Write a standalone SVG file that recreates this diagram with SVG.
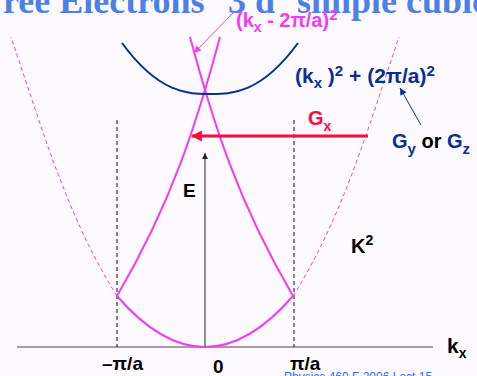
<svg xmlns="http://www.w3.org/2000/svg" width="477" height="376" viewBox="0 0 477 376">
<defs>
<style>
.t{font-family:"Liberation Sans",Arial,sans-serif;font-weight:bold}
.mag{fill:none;stroke:#f23cf2;stroke-width:2}
.magd{fill:none;stroke:#f23cf2;stroke-width:1;stroke-dasharray:4,3}
.vd{fill:none;stroke:#333;stroke-width:1.2;stroke-dasharray:4,3}
</style>
<marker id="ahBlack" viewBox="0 0 10 10" refX="10" refY="5" markerWidth="6" markerHeight="6" markerUnits="userSpaceOnUse" orient="auto"><path d="M0,0 L10,5 L0,10 z" fill="#222"/></marker>
<marker id="ahRed" viewBox="0 0 10 10" refX="9" refY="5" markerWidth="12" markerHeight="11" markerUnits="userSpaceOnUse" orient="auto"><path d="M0,0 L10,5 L0,10 z" fill="#ff0a3c"/></marker>
<marker id="ahMag" viewBox="0 0 10 10" refX="10" refY="5" markerWidth="8" markerHeight="7" markerUnits="userSpaceOnUse" orient="auto"><path d="M0,0 L10,5 L0,10 z" fill="#f23cf2"/></marker>
<marker id="ahNavy" viewBox="0 0 10 10" refX="10" refY="5" markerWidth="8" markerHeight="7" markerUnits="userSpaceOnUse" orient="auto"><path d="M0,0 L10,5 L0,10 z" fill="#0a2f8f"/></marker>
</defs>
<rect width="477" height="376" fill="#fcfaff"/>
<g id="title">
<text font-family="Liberation Serif,'Times New Roman',serif" font-weight="bold" font-size="36" fill="#4d7fe8" y="13"><tspan x="-19">Free Electrons</tspan><tspan x="228">3 d</tspan><tspan x="297">simple cubic</tspan></text>
</g>
<g id="axes">
<line x1="17" y1="347" x2="433" y2="347" stroke="#444" stroke-width="1.2"/>
<line x1="117" y1="120" x2="117" y2="347" class="vd"/>
<line x1="294" y1="120" x2="294" y2="347" class="vd"/>
</g>
<g id="curves">
<path class="magd" d="M117,296 C67,217 41,125 11,37"/>
<path class="magd" d="M293,296 C343,217 369,125 399,37"/>
<path class="mag" d="M117,296 Q205,398 293,296"/>
<path class="mag" d="M117,296 C172,202 196.5,124 220,37"/>
<path class="mag" d="M293,296 C238,202 213.5,124 190,37"/>
<path fill="none" stroke="#0a2f8f" stroke-width="2" d="M122,43 C160,95 190,94 210,94 C230,94 260,95 298,43"/>
</g>
<g id="connectors">
<line x1="205" y1="347" x2="205" y2="153" stroke="#555" stroke-width="1.3" marker-end="url(#ahBlack)"/>
<line x1="368" y1="136" x2="192" y2="136" stroke="#ff0a3c" stroke-width="3" marker-end="url(#ahRed)"/>
<line x1="233" y1="13" x2="194" y2="53" stroke="#f23cf2" stroke-width="1" marker-end="url(#ahMag)"/>
<line x1="421" y1="125" x2="400" y2="88" stroke="#0a2f8f" stroke-width="1" marker-end="url(#ahNavy)"/>
</g>
<g id="label-kx2pi">
<text class="t" x="236" y="27" font-size="20" fill="#f23cf2">(k<tspan font-size="14" dy="5">x</tspan><tspan dy="-5"> - 2π/a)</tspan><tspan font-size="15" dy="-7">2</tspan></text>
</g>
<g id="label-kx2-plus">
<text class="t" x="295" y="83" font-size="21" fill="#0a2f8f">(k<tspan font-size="15" dy="5">x</tspan><tspan dy="-5"> )</tspan><tspan font-size="15" dy="-7">2</tspan><tspan dy="7"> + (2π/a)</tspan><tspan font-size="15" dy="-7">2</tspan></text>
</g>
<g id="label-Gyz">
<text class="t" x="392" y="148" font-size="20" fill="#000"><tspan fill="#0a2f8f">G</tspan><tspan fill="#0a2f8f" font-size="15" dy="6">y</tspan><tspan dy="-6"> or </tspan><tspan fill="#0a2f8f">G</tspan><tspan fill="#0a2f8f" font-size="15" dy="6">z</tspan></text>
</g>
<g id="label-Gx">
<text class="t" x="308" y="125" font-size="20" fill="#ff0a3c">G<tspan font-size="14" dy="6">x</tspan></text>
</g>
<g id="label-E"><text class="t" x="183" y="197" font-size="19" fill="#000">E</text></g>
<g id="label-K2"><text class="t" x="351" y="253" font-size="20" fill="#000">K<tspan font-size="14" dy="-8">2</tspan></text></g>
<g id="label-kaxis"><text class="t" x="447" y="353" font-size="21" fill="#000">k<tspan font-size="14" dy="5">x</tspan></text></g>
<g id="ticks">
<text class="t" x="102" y="370" font-size="19" fill="#000">–π/a</text>
<text class="t" x="213" y="373" font-size="19" fill="#000">0</text>
<text class="t" x="290" y="370" font-size="19" fill="#000">π/a</text>
</g>
<g id="footer"><text font-family="Liberation Sans,Arial,sans-serif" x="284" y="381" font-size="12" fill="#3366ff">Physics 460 F 2006 Lect 15</text></g>
</svg>
